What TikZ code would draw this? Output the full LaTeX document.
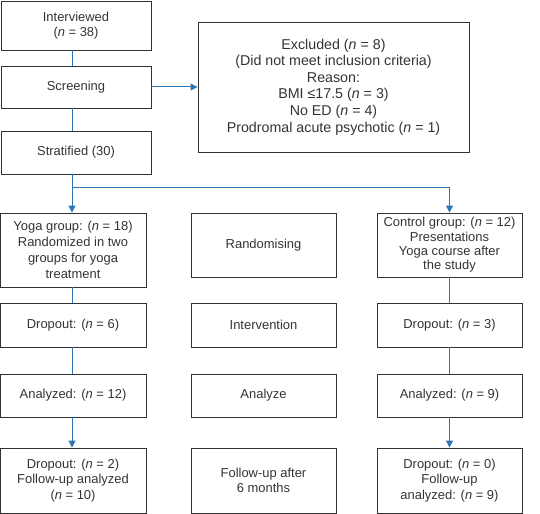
\documentclass[tikz,border=0pt]{standalone}
\usepackage{fontspec}
\setmainfont{Liberation Sans}
\usepackage{tikz}
\usetikzlibrary{arrows.meta}
\definecolor{flowblue}{RGB}{46,117,182}
\newcommand{\nn}{\textit{n}}

\begin{document}
\begin{tikzpicture}[>={Triangle[length=7bp,width=7bp]}, x=1bp, y=-1bp,
	box/.style={draw=black!80, line width=0.9bp, align=center, inner sep=0pt,
		text=black!80, font=\fontsize{13}{15.5}\selectfont},
	link/.style={draw=flowblue, line width=1bp}]
	\useasboundingbox (0,0) rectangle (540,514);
	%\draw [help lines] (0,0) grid (540,514);
	% left column
	\node [box, minimum width=150bp, minimum height=49bp] (intv) at (76,25.5) {Interviewed\\(\nn{} = 38)};
	\node [box, minimum width=150bp, minimum height=42bp] (scr) at (76,87) {Screening};
	\node [box, minimum width=150bp, minimum height=43bp] (strat) at (76,152.5) {Stratified (30)};
	\node [box, minimum width=271bp, minimum height=130bp, font=\fontsize{14.3}{16.6}\selectfont] (excl) at (333.5,87)
		{Excluded (\nn{} = 8)\\(Did not meet inclusion criteria)\\Reason:\\BMI ≤17.5 (\nn{} = 3)\\No ED (\nn{} = 4)\\Prodromal acute psychotic (\nn{} = 1)};
	% yoga group
	\node [box, minimum width=146bp, minimum height=74bp, font=\fontsize{13}{16}\selectfont] (yoga) at (73,250) {Yoga group: (\nn{} = 18)\\Randomized in two\\groups for yoga\\treatment};
	\node [box, minimum width=146bp, minimum height=44bp] (drop1) at (73,325) {Dropout: (\nn{} = 6)};
	\node [box, minimum width=146bp, minimum height=43bp] (ana1) at (73,395.5) {Analyzed: (\nn{} = 12)};
	\node [box, minimum width=146bp, minimum height=65bp] (fol1) at (73,480.5) {Dropout: (\nn{} = 2)\\Follow-up analyzed\\(\nn{} = 10)};
	% middle column
	\node [box, minimum width=145bp, minimum height=64bp] (rand) at (263.5,245) {Randomising};
	\node [box, minimum width=145bp, minimum height=44bp] (interv) at (263.5,325) {Intervention};
	\node [box, minimum width=145bp, minimum height=43bp] (anlz) at (263.5,395.5) {Analyze};
	\node [box, minimum width=145bp, minimum height=65bp] (fup) at (263.5,480.5) {Follow-up after\\6 months};
	% control group
	\node [box, minimum width=145bp, minimum height=64bp, font=\fontsize{13}{14.3}\selectfont] (ctrl) at (449.5,245) {Control group: (\nn{} = 12)\\Presentations\\Yoga course after\\the study};
	\node [box, minimum width=145bp, minimum height=44bp] (drop2) at (449.5,325) {Dropout: (\nn{} = 3)};
	\node [box, minimum width=145bp, minimum height=43bp] (ana2) at (449.5,395.5) {Analyzed: (\nn{} = 9)};
	\node [box, minimum width=145bp, minimum height=65bp] (fol2) at (449.5,480.5) {Dropout: (\nn{} = 0)\\Follow-up\\analyzed: (\nn{} = 9)};
	% connectors
	\coordinate (split) at (72,188);
	\draw [link] (intv.south -| split) -- (scr.north -| split);
	\draw [link] (scr.south -| split) -- (strat.north -| split);
	\draw [link, ->] (scr.east) -- (excl.west);
	\draw [link] (strat.south -| split) -- (split);
	\draw [link, ->] (split) -- (yoga.north -| split);
	\draw [link, ->] (split) -| (ctrl.north);
	\draw [link] (yoga.south -| split) -- (drop1.north -| split);
	\draw [link] (drop1.south -| split) -- (ana1.north -| split);
	\draw [link, ->] (ana1.south -| split) -- (fol1.north -| split);
	\draw [link] (ctrl) -- (drop2);
	\draw [link] (drop2) -- (ana2);
	\draw [link, ->] (ana2) -- (fol2);
\end{tikzpicture}
\end{document}
